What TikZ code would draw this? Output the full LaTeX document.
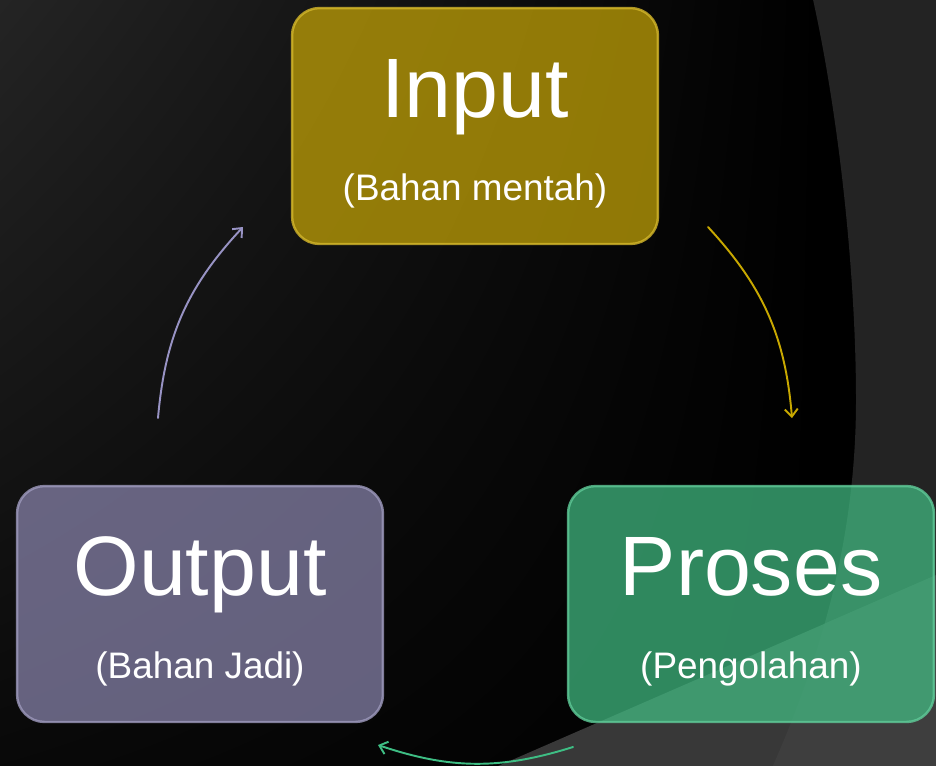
\documentclass[tikz,border=0pt]{standalone}
\usepackage{fontspec}
\setmainfont{Liberation Sans}
\usetikzlibrary{arrows.meta,shadings}

\begin{document}
\begin{tikzpicture}[x=0.02cm,y=-0.02cm,line cap=round,line join=round,
  box/.style={rectangle,rounded corners=0.55cm,minimum width=7.32cm,
    minimum height=4.72cm,inner sep=0pt,fill=#1,fill opacity=0.7,
    draw=#1!85!white,draw opacity=0.8,line width=1.4pt},
  ttl/.style={text=white,anchor=base,inner sep=0pt,
    font=\fontsize{48}{50}\selectfont},
  sub/.style={text=white,anchor=base,inner sep=0pt,
    font=\fontsize{21}{24}\selectfont},
  flow/.style={draw=#1,line width=1.1pt,-{Straight Barb[length=1.5mm,width=2.6mm]}}]

  \definecolor{bgtl}{RGB}{36,36,36}
  \definecolor{panel}{RGB}{35,35,35}
  \definecolor{band}{RGB}{56,56,56}
  \definecolor{bandr}{RGB}{62,62,62}
  \definecolor{inputc}{RGB}{204,170,6}
  \definecolor{outputc}{RGB}{141,136,177}
  \definecolor{prosesc}{RGB}{67,193,134}
  \definecolor{flowy}{RGB}{200,168,0}
  \definecolor{flowg}{RGB}{62,190,132}
  \definecolor{flowp}{RGB}{152,147,196}

  \useasboundingbox (0,0) rectangle (936,765);

  % ---- background ----
  \fill[black] (-5,-5) rectangle (941,770);
  \begin{scope}
    \clip (0,0) rectangle (936,765);
    \shade[upper left=bgtl,upper right=black,lower left=black,lower right=black]
      (0,0) rectangle (820,1000);
  \end{scope}
  % right-hand panel and lower band
  \fill[panel] (812,-5) .. controls (840,120) and (856,280) .. (856,400)
    .. controls (856,540) and (820,660) .. (771,770) -- (941,770) -- (941,-5) -- cycle;
  \fill[band] (489,770) -- (941,573) -- (941,770) -- cycle;
  \begin{scope}
    \clip (489,770) -- (941,573) -- (941,770) -- cycle;
    \fill[bandr] (812,-5) .. controls (840,120) and (856,280) .. (856,400)
      .. controls (856,540) and (820,660) .. (771,770) -- (941,770) -- (941,-5) -- cycle;
  \end{scope}

  % ---- input (top) ----
  \node[box=inputc] (input) at (475,126) {};
  \node[ttl] (inputt) at (475,117) {Input};
  \node[sub] (inputs) at (475,200) {(Bahan mentah)};

  % ---- proses (right) ----
  \node[box=prosesc] (proses) at (751,604) {};
  \node[ttl] (prosest) at (751,595) {Proses};
  \node[sub] (prosess) at (751,678) {(Pengolahan)};

  % ---- output (left) ----
  \node[box=outputc] (output) at (200,604) {};
  \node[ttl] (outputt) at (200,595) {Output};
  \node[sub] (outputs) at (200,678) {(Bahan Jadi)};

  % ---- cycle arrows ----
  \coordinate (y1) at (708,227);
  \coordinate (y2) at (792,418);
  \draw[flow=flowy] (y1) to[bend left=19] (y2);
  \coordinate (g1) at (573,747);
  \coordinate (g2) at (378,745);
  \draw[flow=flowg] (g1) to[bend left=18] (g2);
  \coordinate (p1) at (158,418);
  \coordinate (p2) at (243,227);
  \draw[flow=flowp] (p1) to[bend left=19] (p2);
\end{tikzpicture}
\end{document}
